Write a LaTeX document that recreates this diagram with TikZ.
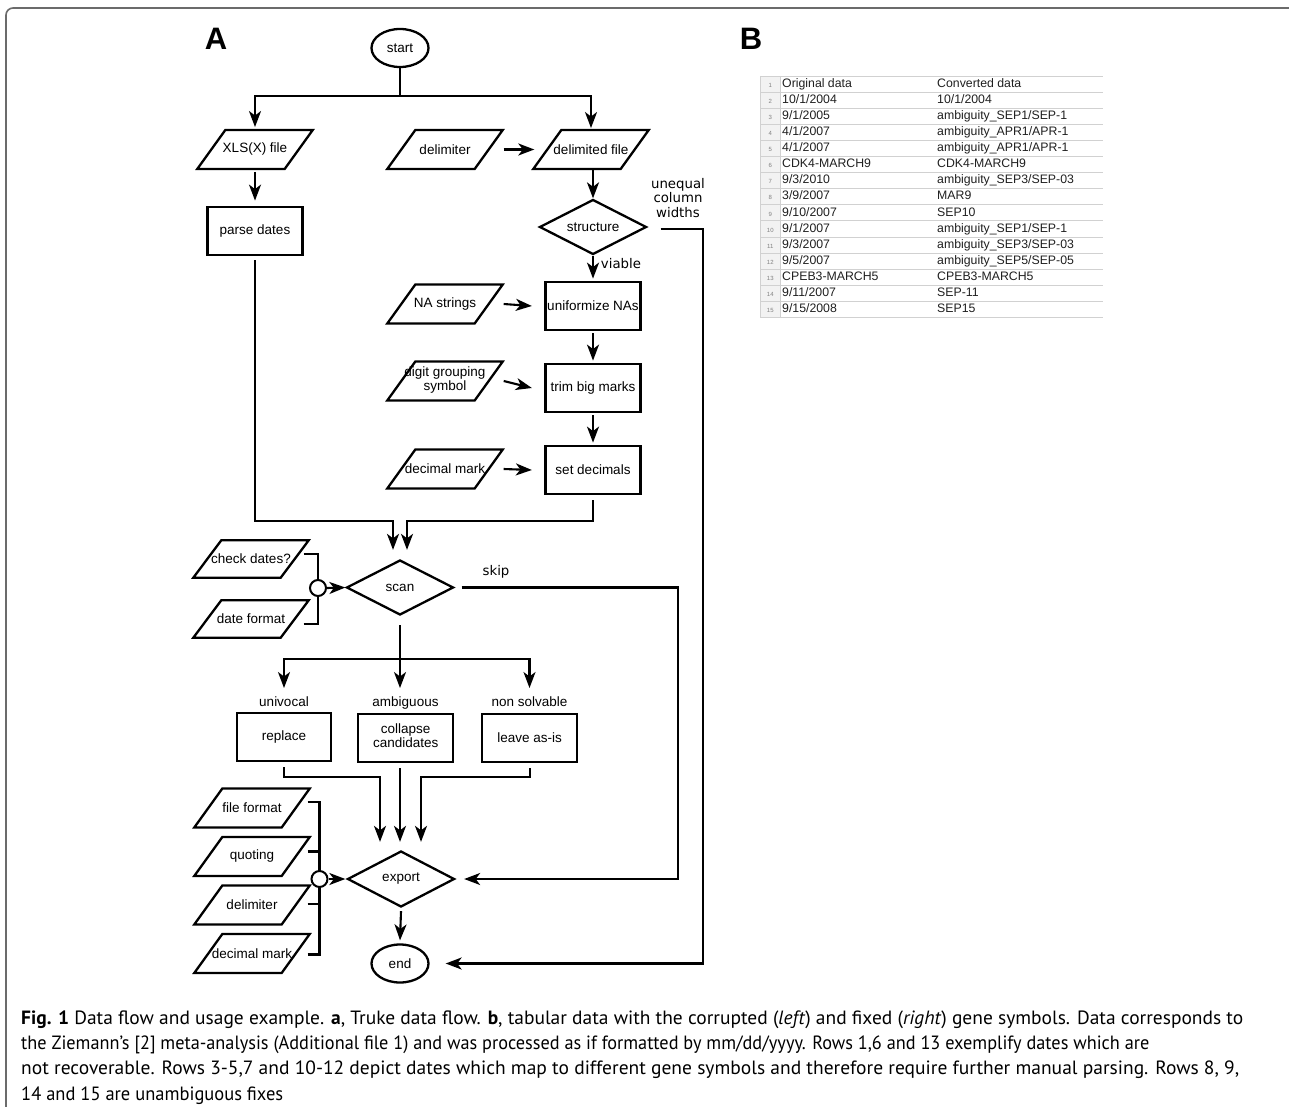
\documentclass[tikz,border=0pt]{standalone}
\usepackage{graphicx}
\usepackage{fontspec}
\setmainfont{Liberation Sans}
\newfontfamily\dejavu{DejaVu Sans}
\newfontfamily\capfont{PT Sans}
\usetikzlibrary{shapes.geometric,arrows.meta,calc}
\newcommand\zbox[1]{\makebox[0pt]{#1}}
\newcommand\twol[2]{\begin{tabular}{@{}c@{}}#1\\#2\end{tabular}}
\newcommand\tabrow[3]{%
  \node[tnum] (n#1) at (770.3,{87.3+16.1*(#1-1)}) {#1};
  \node[tcell] (a#1) at (782,{87.3+16.1*(#1-1)}) {#2};
  \node[tcell] (b#1) at (937,{87.3+16.1*(#1-1)}) {#3};
}
\tikzset{
  every node/.style={font=\fontsize{13.5}{14}\selectfont},
  shp/.style={draw, line width=2.3pt, inner sep=0pt},
  io/.style={rectangle, inner sep=0pt, minimum width=87pt, minimum height=38.5pt},
  paraline/.style={line width=2.3pt, line join=miter},
  proc/.style={shp, rectangle, minimum width=95pt, minimum height=48.5pt},
  dec/.style={shp, diamond, minimum width=107pt, minimum height=55pt},
  term/.style={shp, ellipse, minimum width=57pt, minimum height=38pt},
  junc/.style={draw, line width=2pt, circle, inner sep=0pt, minimum size=16pt},
  conn/.style={line width=2.1pt},
  arr/.style={conn, -{Stealth[length=16pt, width=12pt, inset=4.5pt]}},
  lab/.style={font=\dejavu\fontsize{13.3}{14.5}\selectfont},
  blab/.style={anchor=base, inner sep=0pt},
  big/.style={font=\bfseries\fontsize{31}{31}\selectfont},
  frame/.style={line width=1.6pt, draw=black!58, rounded corners=7pt},
  tcell/.style={anchor=base west, inner sep=0pt, font=\fontsize{12.3}{13}\selectfont, text=black!88},
  tnum/.style={anchor=base, inner sep=0pt, font=\fontsize{6}{7}\selectfont, text=black!50},
  tline/.style={draw=black!18, line width=0.8pt},
  capt/.style={anchor=base west, inner sep=0pt, font=\capfont\fontsize{19.2}{25}\selectfont},
}
\begin{document}
\begin{tikzpicture}[x=1pt,y=-1pt]
\useasboundingbox (0,0) rectangle (1289,1107);
\draw[frame] (6,1130) -- (6,8) -- (1310,8);

\node[big] (lblA) at (216,39) {A};
\node[big] (lblB) at (751,39) {B};

% top part
\node[term] (start) at (400,48) {start};
\node[io] (xls) at (255,149.5) {\zbox{XLS(X) file}};
\node[io] (delim1) at (445,149.5) {\zbox{delimiter}};
\node[io] (dfile) at (591,149.5) {\zbox{delimited file}};
\node[proc] (parse) at (255,231) {parse dates};
\node[dec] (struct) at (593,227) {\zbox{structure}};
\node[lab, align=center, inner sep=0pt] (uneq) at (678,198) {unequal\\column\\widths};
\node[lab, inner sep=0pt] (viable) at (621,264) {viable};
\node[proc] (unif) at (593,306) {uniformize NAs};
\node[io] (nastr) at (445,304) {\zbox{NA strings}};
\node[proc] (trim) at (593,388) {trim big marks};
\node[io] (digit) at (445,381) {\zbox{\twol{digit grouping}{symbol}}};
\node[proc] (setdec) at (593,470) {set decimals};
\node[io] (decm1) at (445,469) {\zbox{decimal mark}};

% scan part
\node[dec] (scan) at (400,587.5) {\zbox{scan}};
\node[io, minimum height=37pt] (chk) at (251,559) {\zbox{check dates?}};
\node[io, minimum height=37pt] (datef) at (251,619) {\zbox{date format}};
\node[junc] (j1) at (318,588) {};
\node[lab, inner sep=0pt] (skip) at (496,572) {skip};

\node[blab] (univ) at (284,706) {univocal};
\node[blab] (ambi) at (405.5,706) {ambiguous};
\node[blab] (nons) at (529.5,706) {non solvable};
\node[proc, minimum width=94pt] (repl) at (284,737) {replace};
\node[proc] (coll) at (405.7,738) {\twol{collapse}{candidates}};
\node[proc] (leave) at (529.6,738) {leave as-is};

% export part
\node[dec, minimum height=56pt] (export) at (401,879) {\zbox{export}};
\node[term] (endn) at (400,963.5) {end};
\node[io] (ff) at (252,808) {\zbox{file format}};
\node[io] (quot) at (252,856.5) {\zbox{quoting}};
\node[io] (delim2) at (252,905) {\zbox{delimiter}};
\node[io] (decm2) at (252,953.5) {\zbox{decimal mark}};
\node[junc] (j2) at (319.5,879) {};

% parallelogram outlines of the io nodes
\foreach \n in {xls,delim1,dfile,nastr,digit,decm1,chk,datef,ff,quot,delim2,decm2}
  \draw[paraline] ([xshift=-14pt]\n.south west) -- ([xshift=14pt]\n.north west)
     -- ([xshift=14pt]\n.north east) -- ([xshift=-14pt]\n.south east) -- cycle;

% connectors
\coordinate (s1) at (400,96);
\draw[conn] (start.south) -- (s1);
\draw[arr] (s1) -| ([yshift=3pt]xls.north);
\draw[arr] (s1) -| ([yshift=2pt]dfile.north);
\draw[arr] ([yshift=-3pt]xls.south) -- ([yshift=5pt]parse.north);
\draw[arr] ([xshift=15pt]delim1.east) -- ([xshift=-13pt]dfile.west);
\draw[arr] ([xshift=2pt]dfile.south) -- (struct.north);
\coordinate (uc) at (703,600);
\draw[arr] ([xshift=13pt,yshift=-2pt]struct.east) -| (uc) |- ([xshift=16pt]endn.east);
\draw[arr] (struct.south) -- ([yshift=2pt]unif.north);
\draw[arr] ([xshift=15pt]nastr.east) -- ([xshift=-12.5pt]unif.west);
\draw[arr] ([xshift=15pt]digit.east) -- ([xshift=-12.5pt]trim.west);
\draw[arr] ([xshift=15pt]decm1.east) -- ([xshift=-12.5pt]setdec.west);
\draw[arr] ([yshift=-2pt]unif.south) -- ([yshift=2pt]trim.north);
\draw[arr] ([yshift=-2pt]trim.south) -- ([yshift=2pt]setdec.north);

\coordinate (m2) at (393,521);
\coordinate (m3) at (407,521);
\draw[arr] ([yshift=-4pt]parse.south) |- (m2) -- ([xshift=-7pt,yshift=9pt]scan.north);
\draw[arr] ([yshift=-5pt]setdec.south) |- (m3) -- ([xshift=7pt,yshift=9pt]scan.north);

\draw[conn] ([xshift=9pt,yshift=5pt]chk.east) -| (j1.north);
\draw[conn] ([xshift=9pt,yshift=-5pt]datef.east) -| (j1.south);
\draw[arr] (j1.east) -- (scan.west);

\coordinate (sc) at (678,700);
\draw[arr] ([xshift=7pt]scan.east) -| (sc) |- ([xshift=8.5pt]export.east);

\coordinate (b0) at (400,659);
\draw[conn] ([yshift=-9pt]scan.south) -- (b0);
\draw[arr] (b0) -| ([yshift=8pt]univ.north);
\draw[arr] (b0) -- ([xshift=-5.5pt,yshift=8pt]ambi.north);
\draw[arr] (b0) -| ([yshift=8pt]nons.north);

\coordinate (e1) at (380,777);
\coordinate (e3) at (421,777);
\draw[arr] ([yshift=-5pt]repl.south) |- (e1) -- ([xshift=-21pt,yshift=8pt]export.north);
\draw[arr] ([xshift=-5.7pt,yshift=-5pt]coll.south) -- ([xshift=-1pt,yshift=8pt]export.north);
\draw[arr] ([yshift=-5pt]leave.south) |- (e3) -- ([xshift=20pt,yshift=8pt]export.north);

\draw[conn] ([xshift=12pt,yshift=6pt]ff.east) -| (j2.north);
\draw[conn] ([xshift=12pt,yshift=5pt]quot.east) -- ++(12,0);
\draw[conn] ([xshift=12pt,yshift=1pt]delim2.east) -- ++(12,0);
\draw[conn] ([xshift=12pt,yshift=-1pt]decm2.east) -| (j2.south);
\draw[arr] (j2.east) -- ([xshift=-1pt]export.west);
\draw[arr] ([yshift=-3pt]export.south) -- ([yshift=3pt]endn.north);

% table B
\fill[black!5] (760.7,76) rectangle (780,317.5);
\foreach \k in {0,...,15} \draw[tline] (760.7,{76+16.1*\k}) -- (1103,{76+16.1*\k});
\draw[tline] (760.7,76) -- (760.7,317.5);
\draw[tline] (780,76) -- (780,317.5);
\tabrow{1}{Original data}{Converted data}
\tabrow{2}{10/1/2004}{10/1/2004}
\tabrow{3}{9/1/2005}{ambiguity\_SEP1/SEP-1}
\tabrow{4}{4/1/2007}{ambiguity\_APR1/APR-1}
\tabrow{5}{4/1/2007}{ambiguity\_APR1/APR-1}
\tabrow{6}{CDK4-MARCH9}{CDK4-MARCH9}
\tabrow{7}{9/3/2010}{ambiguity\_SEP3/SEP-03}
\tabrow{8}{3/9/2007}{MAR9}
\tabrow{9}{9/10/2007}{SEP10}
\tabrow{10}{9/1/2007}{ambiguity\_SEP1/SEP-1}
\tabrow{11}{9/3/2007}{ambiguity\_SEP3/SEP-03}
\tabrow{12}{9/5/2007}{ambiguity\_SEP5/SEP-05}
\tabrow{13}{CPEB3-MARCH5}{CPEB3-MARCH5}
\tabrow{14}{9/11/2007}{SEP-11}
\tabrow{15}{9/15/2008}{SEP15}

% caption
\node[capt] (cap1) at (21,1024) {\resizebox{1222pt}{\height}{\textbf{Fig. 1} Data flow and usage example. \textbf{a}, Truke data flow. \textbf{b}, tabular data with the corrupted (\textit{left}) and fixed (\textit{right}) gene symbols. Data corresponds to}};
\node[capt] (cap2) at (21,1049.3) {\resizebox{1128pt}{\height}{the Ziemann’s [2] meta-analysis (Additional file 1) and was processed as if formatted by mm/dd/yyyy. Rows 1,6 and 13 exemplify dates which are}};
\node[capt] (cap3) at (21,1074.6) {\resizebox{1218pt}{\height}{not recoverable. Rows 3-5,7 and 10-12 depict dates which map to different gene symbols and therefore require further manual parsing. Rows 8, 9,}};
\node[capt] (cap4) at (21,1100) {\resizebox{262pt}{\height}{14 and 15 are unambiguous fixes}};
\end{tikzpicture}
\end{document}
